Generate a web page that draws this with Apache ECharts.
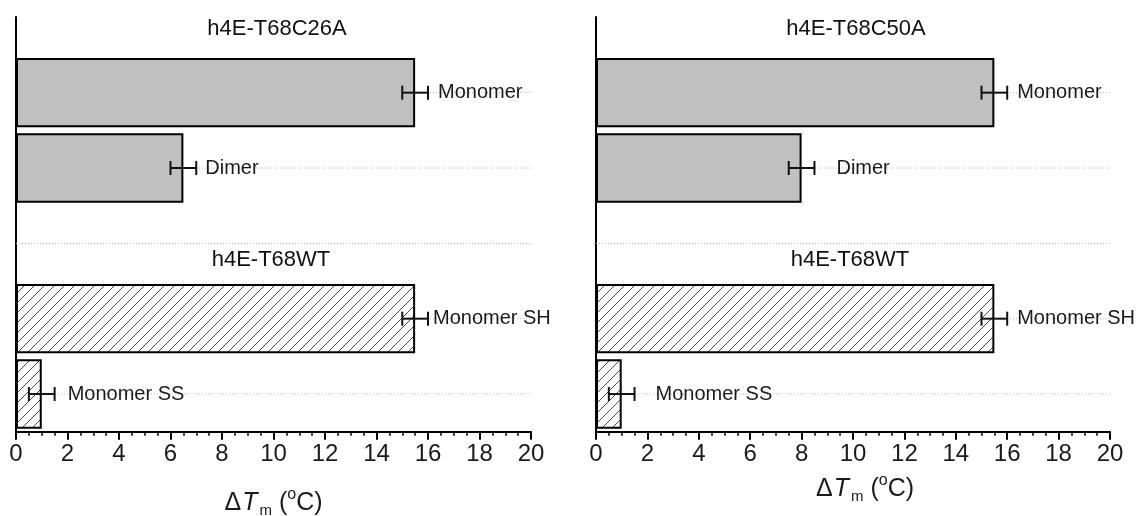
<!DOCTYPE html>
<html><head><meta charset="utf-8">
<script src="https://cdn.jsdelivr.net/npm/echarts@6/dist/echarts.min.js"></script>
<style>html,body{margin:0;padding:0;background:#fff}#chart{width:1143px;height:516px}</style>
</head><body><div id="chart"></div>
<script>
// ---- data ----
const categories = ['Monomer', 'Dimer', '', 'Monomer SH', 'Monomer SS'];
const leftValues  = [15.5, 6.5, null, 15.5, 1.0];
const leftErrors  = [0.5, 0.5, null, 0.5, 0.5];
const rightValues = [15.5, 8.0, null, 15.5, 1.0];
const rightErrors = [0.5, 0.5, null, 0.5, 0.5];
const hatchedRows = [false, false, false, true, true];
const leftTitles  = ['h4E-T68C26A', 'h4E-T68WT'];
const rightTitles = ['h4E-T68C50A', 'h4E-T68WT'];
const xMin = 0, xMax = 20, xStep = 2;

// ---- style ----
const FONT = 'Liberation Sans, Arial, sans-serif';
const TXT = '#1a1a1a';
const leftLabelGap  = [10, 9, 0, 5, 13];
const rightLabelGap = [10, 22, 0, 10, 21];

function hatchCanvas() {
  const c = document.createElement('canvas');
  c.width = 10; c.height = 10;
  const g = c.getContext('2d');
  g.fillStyle = '#fff'; g.fillRect(0, 0, 10, 10);
  g.strokeStyle = '#4a4a4a'; g.lineWidth = 1;
  g.beginPath();
  g.moveTo(-1, 11); g.lineTo(11, -1);
  g.moveTo(-1, 1); g.lineTo(1, -1);
  g.moveTo(9, 11); g.lineTo(11, 9);
  g.stroke();
  return c;
}
const hatch = { image: hatchCanvas(), repeat: 'repeat' };

const panels = [
  { left: 16, right: 612, values: leftValues, errors: leftErrors, gaps: leftLabelGap, nameGap: 55, namePad: [0, 0, 0, 0] },
  { left: 596, right: 33, values: rightValues, errors: rightErrors, gaps: rightLabelGap, nameGap: 41, namePad: [0, 0, 0, 24] }
];

const grid = [], xAxis = [], yAxis = [], series = [];
panels.forEach((p, k) => {
  const gMain = grid.length;
  grid.push({ left: p.left, right: p.right, top: 55, bottom: 84.3, outerBoundsMode: 'none', containLabel: false });
  const gExt = grid.length;
  grid.push({ left: p.left, right: p.right, top: 17, bottom: 84.3, outerBoundsMode: 'none', containLabel: false });

  xAxis.push({
    gridIndex: gMain, type: 'value', min: xMin, max: xMax, interval: xStep,
    axisLine: { show: true, onZero: false, lineStyle: { color: '#000', width: 2 } },
    axisTick: { show: true, length: 8, lineStyle: { color: '#000', width: 2 } },
    minorTick: { show: true, splitNumber: 4, length: 4, lineStyle: { color: '#000', width: 1.5 } },
    axisLabel: { margin: 11, fontSize: 24, fontFamily: FONT, color: TXT },
    splitLine: { show: false }, minorSplitLine: { show: false },
    name: '{d|Δ}{t|T}{s|m} ({p|o}C)',
    nameLocation: 'middle', nameGap: p.nameGap, nameMoveOverlap: false,
    nameTextStyle: {
      fontSize: 25, fontFamily: FONT, color: TXT, lineHeight: 32, padding: p.namePad,
      rich: {
        d: { fontSize: 25, fontFamily: FONT, color: TXT, lineHeight: 32 },
        t: { fontSize: 25, fontFamily: FONT, color: TXT, fontStyle: 'italic', lineHeight: 32, padding: [0, 2, 0, 1] },
        s: { fontSize: 15, fontFamily: FONT, color: TXT, verticalAlign: 'bottom', lineHeight: 32 },
        p: { fontSize: 16, fontFamily: FONT, color: TXT, verticalAlign: 'top', lineHeight: 32 }
      }
    }
  });
  xAxis.push({ gridIndex: gExt, type: 'value', show: false, min: xMin, max: xMax });

  yAxis.push({
    gridIndex: gMain, type: 'category', data: categories, inverse: true,
    axisLine: { show: true, onZero: false, lineStyle: { color: '#000', width: 2 } },
    axisTick: { show: false }, axisLabel: { show: false }, splitLine: { show: false }
  });
  yAxis.push({
    gridIndex: gExt, type: 'value', min: 0, max: 1,
    axisLine: { show: true, onZero: false, lineStyle: { color: '#000', width: 2 } },
    axisTick: { show: false }, axisLabel: { show: false }, splitLine: { show: false }
  });

  const xi = xAxis.length - 2, yi = yAxis.length - 2;

  // dotted category guide lines (behind bars)
  series.push({
    type: 'custom', xAxisIndex: xi, yAxisIndex: yi, z: 1, silent: true,
    data: categories.map((c, i) => [xMax, i]),
    encode: { x: 0, y: 1 },
    renderItem: (params, api) => {
      const i = api.value(1);
      const a = api.coord([xMin, i]), b = api.coord([xMax, i]);
      return { type: 'line', shape: { x1: a[0], y1: a[1], x2: b[0], y2: b[1] },
        style: { stroke: '#b8b8b8', lineWidth: 1, lineDash: [1, 2] } };
    }
  });

  // bars
  series.push({
    type: 'bar', xAxisIndex: xi, yAxisIndex: yi, z: 2, barCategoryGap: '8%',
    data: p.values.map((v, i) => v == null ? '-' : {
      value: v,
      itemStyle: { color: hatchedRows[i] ? hatch : '#c0c0c0', borderColor: '#000', borderWidth: 2 }
    })
  });

  // error bars + row labels
  series.push({
    type: 'custom', xAxisIndex: xi, yAxisIndex: yi, z: 3, silent: true,
    data: p.values.map((v, i) => v == null ? null : [v, i, p.errors[i]]).filter(d => d),
    encode: { x: 0, y: 1 },
    renderItem: (params, api) => {
      const v = api.value(0), i = api.value(1), e = api.value(2);
      const lo = api.coord([v - e, i]), hi = api.coord([v + e, i]);
      const st = { stroke: '#111', lineWidth: 2 };
      const cap = 7;
      return { type: 'group', children: [
        { type: 'line', shape: { x1: lo[0], y1: lo[1], x2: hi[0], y2: hi[1] }, style: st },
        { type: 'line', shape: { x1: lo[0], y1: lo[1] - cap, x2: lo[0], y2: lo[1] + cap }, style: st },
        { type: 'line', shape: { x1: hi[0], y1: hi[1] - cap, x2: hi[0], y2: hi[1] + cap }, style: st },
        { type: 'text', x: hi[0] + p.gaps[i], y: hi[1],
          style: { text: categories[i], fontSize: 20, fontFamily: FONT, fill: TXT, align: 'left', verticalAlign: 'middle' } }
      ] };
    }
  });
});

const titleStyle = (t) => ({ text: t, fontSize: 22, fontFamily: FONT, fill: '#111', align: 'center', verticalAlign: 'middle' });
const graphic = [
  { type: 'text', x: 277, y: 28.5, style: titleStyle(leftTitles[0]) },
  { type: 'text', x: 271, y: 260, style: titleStyle(leftTitles[1]) },
  { type: 'text', x: 856, y: 28.5, style: titleStyle(rightTitles[0]) },
  { type: 'text', x: 850, y: 260, style: titleStyle(rightTitles[1]) }
];

const chart = echarts.init(document.getElementById('chart'), null, { renderer: 'canvas' });
chart.setOption({ animation: false, backgroundColor: '#fff', grid, xAxis, yAxis, series, graphic });
</script></body></html>
